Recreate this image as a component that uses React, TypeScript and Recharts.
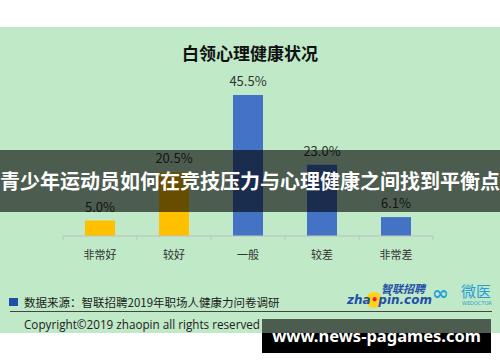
import React from "react";
import { BarChart, Bar, XAxis, YAxis, Cell, LabelList } from "recharts";

const categories = ["非常好", "较好", "一般", "较差", "非常差"];
const values = [5.0, 20.5, 45.5, 23.0, 6.1];
const barColors = ["#ffc000", "#ffc000", "#4472c4", "#4472c4", "#4472c4"];
const title = "白领心理健康状况";
const bannerText = "青少年运动员如何在竞技压力与心理健康之间找到平衡点";
const sourceText = "数据来源：智联招聘2019年职场人健康力问卷调研";
const copyrightText = "Copyright©2019 zhaopin all rights reserved";
const watermarkText = "www.news-pagames.com";

const data = categories.map((c, i) => ({ name: c, value: values[i] }));

const CJK = '"Noto Sans CJK SC", "Noto Sans", sans-serif';
const BAND = 74;

const Tick = (props: any) => {
  const { x, payload, index } = props;
  const last = index === categories.length - 1;
  const ay = 236;
  return (
    <g>
      <line x1={x - BAND / 2} y1={ay} x2={x - BAND / 2} y2={ay + 4} stroke="#bfbfbf" />
      {last && <line x1={x + BAND / 2} y1={ay} x2={x + BAND / 2} y2={ay + 4} stroke="#bfbfbf" />}
      <text x={x} y={ay + 23} textAnchor="middle" fontSize={11} fill="#333" fontFamily={CJK}>
        {payload.value}
      </text>
    </g>
  );
};

export default function App() {
  return (
    <div style={{ position: "absolute", left: 0, top: 0, width: 500, height: 362, background: "#fff", overflow: "hidden", fontFamily: CJK }}>
      <div style={{ position: "absolute", left: 0, top: 27, width: 500, height: 306, background: "#bfe9c7" }} />
      <div style={{ position: "absolute", left: 0, top: 41, width: 500, textAlign: "center", fontSize: 17, fontWeight: 700, color: "#111", lineHeight: "24px" }}>
        {title}
      </div>
      <div style={{ position: "absolute", left: 0, top: 0 }}>
        <BarChart width={500} height={362} data={data} margin={{ top: 81, right: 67, bottom: 96, left: 63 }}>
          <YAxis hide domain={[0, 50]} />
          <XAxis dataKey="name" height={30} axisLine={{ stroke: "#bfbfbf" }} tickLine={false} tick={<Tick />} interval={0} />
          <Bar dataKey="value" barSize={30} isAnimationActive={false}>
            {data.map((d, i) => (
              <Cell key={d.name} fill={barColors[i]} />
            ))}
            <LabelList dataKey="value" position="top" offset={9} fontSize={13} fill="#333" fontFamily={CJK} formatter={(v: any) => Number(v).toFixed(1) + "%"} />
          </Bar>
        </BarChart>
      </div>
      <div style={{ position: "absolute", left: 0, top: 150, width: 500, height: 62, background: "rgba(0,0,0,0.6)" }} />
      <div style={{ position: "absolute", left: 0, top: 150, width: 500, height: 62, lineHeight: "62px", textAlign: "center", color: "#fff", fontSize: 20, fontWeight: 700, whiteSpace: "nowrap" }}>
        {bannerText}
      </div>
      <div style={{ position: "absolute", left: 9, top: 298, width: 9, height: 8, background: "#1f4fa8" }} />
      <div style={{ position: "absolute", left: 24, top: 294, fontSize: 11.5, lineHeight: "16px", color: "#222", whiteSpace: "nowrap" }}>
        {sourceText}
      </div>
      <div style={{ position: "absolute", left: 10, top: 311, width: 482, height: 1, background: "#444" }} />
      <div style={{ position: "absolute", left: 24, top: 316, fontSize: 11.7, lineHeight: "16px", color: "#222", fontFamily: '"Open Sans", sans-serif', whiteSpace: "nowrap" }}>
        {copyrightText}
      </div>
      <div style={{ position: "absolute", left: 366, top: 292, width: 16, height: 16, borderRadius: 8, background: "#ffd21a" }} />
      <div style={{ position: "absolute", left: 347, top: 293, fontSize: 12, fontWeight: 700, fontStyle: "italic", color: "#1f4fa8", fontFamily: '"DejaVu Sans", sans-serif', whiteSpace: "nowrap", lineHeight: "14px" }}>
        zha<span style={{ color: "#e23" }}>•</span>pin.com
      </div>
      <div style={{ position: "absolute", left: 381, top: 282, fontSize: 11, fontWeight: 700, fontStyle: "italic", color: "#1f4fa8", whiteSpace: "nowrap", lineHeight: "12px" }}>
        智联招聘
      </div>
      <div style={{ position: "absolute", left: 432, top: 284, fontSize: 20, fontWeight: 700, color: "#2a9fd6", lineHeight: "18px", fontFamily: '"DejaVu Sans", sans-serif' }}>∞</div>
      <div style={{ position: "absolute", left: 461, top: 283, fontSize: 15, color: "#2a9fd6", lineHeight: "16px" }}>微医</div>
      <div style={{ position: "absolute", left: 462, top: 300, fontSize: 5, color: "#2a9fd6", lineHeight: "6px", fontFamily: '"DejaVu Sans", sans-serif' }}>WEDOCTOR</div>
      <div style={{ position: "absolute", left: 262, top: 319, width: 229, height: 14, background: "rgba(0,0,0,0.6)" }} />
      <div style={{ position: "absolute", left: 262, top: 333, width: 229, height: 20, background: "#000" }} />
      <div style={{ position: "absolute", left: 262, top: 319, width: 229, height: 34, lineHeight: "34px", textAlign: "center", color: "#fff", fontSize: 16.5, fontWeight: 700, fontFamily: '"Noto Sans", sans-serif', whiteSpace: "nowrap" }}>
        {watermarkText}
      </div>
    </div>
  );
}
